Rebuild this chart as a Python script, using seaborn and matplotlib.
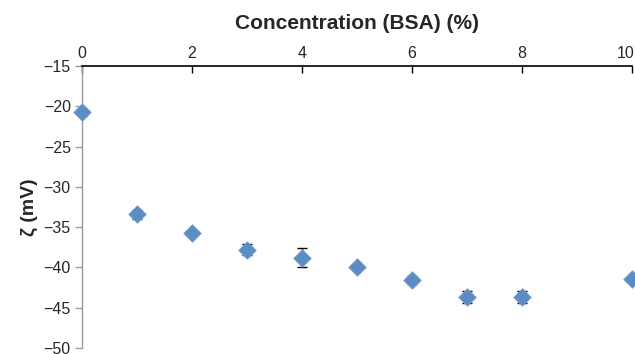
import matplotlib
matplotlib.use("Agg")
import matplotlib.pyplot as plt
import matplotlib.transforms as mtransforms
import seaborn as sns
import pandas as pd

# BSA concentration (%) vs zeta potential (mV) with standard deviations
concentration = [0, 1, 2, 3, 4, 5, 6, 7, 8, 10]
zeta_mv = [-20.7, -33.4, -35.7, -37.8, -38.8, -40.0, -41.6, -43.7, -43.7, -41.5]
zeta_sd = [0.5, 0.55, 0.2, 0.65, 1.15, 0.2, 0.5, 0.75, 0.75, 0.2]

x_ticks = [0, 2, 4, 6, 8, 10]
y_ticks = [-50, -45, -40, -35, -30, -25, -20, -15]

df = pd.DataFrame({"conc": concentration, "zeta": zeta_mv, "sd": zeta_sd})

sns.set_theme(style="white")
plt.rcParams["font.family"] = ["Liberation Sans", "DejaVu Sans"]

fig = plt.figure(figsize=(6.35, 3.54), dpi=100)
ax = fig.add_axes([0.129, 0.017, 0.8663, 0.7966])

ax.errorbar(df["conc"], df["zeta"], yerr=df["sd"], fmt="none",
            ecolor="black", elinewidth=1.0, capsize=3.5, capthick=1.0, zorder=2)
sns.scatterplot(data=df, x="conc", y="zeta", marker="D", s=80,
                color="#5b8cc4", edgecolor="#7da3d0", linewidth=0.6,
                ax=ax, zorder=3, clip_on=False)

ax.set_xlim(0, 10)
ax.set_ylim(-50, -15)
ax.set_xticks(x_ticks)
ax.set_yticks(y_ticks)
ax.set_yticklabels([f"\u2212{abs(v)}" for v in y_ticks])

ax.xaxis.tick_top()
ax.xaxis.set_label_position("top")
ax.tick_params(axis="x", direction="in", length=5, width=1, color="black",
               labelsize=11.5, pad=3.5, top=True, bottom=False)
ax.tick_params(axis="y", direction="out", length=5, width=1, color="#999999",
               labelsize=11.5, pad=3, left=True)

# keep the last x tick label inside the figure edge
last = ax.get_xticklabels()[-1]
last.set_transform(last.get_transform() +
                   mtransforms.ScaledTranslation(-6 / 100, 0, fig.dpi_scale_trans))

for side in ["right", "bottom"]:
    ax.spines[side].set_visible(False)
ax.spines["top"].set_color("black")
ax.spines["top"].set_linewidth(1.2)
ax.spines["left"].set_color("#999999")
ax.spines["left"].set_linewidth(1.0)

ax.set_xlabel("Concentration (BSA) (%)", fontsize=15, fontweight="bold", labelpad=12)
ax.set_ylabel("\u03b6 (mV)", fontsize=14, fontweight="bold", labelpad=4)

fig.savefig("out.png", dpi=100)
